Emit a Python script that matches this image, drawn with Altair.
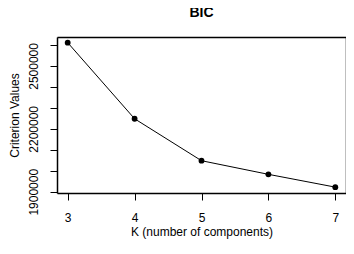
import altair as alt
import pandas as pd

k_values = [3, 4, 5, 6, 7]
bic_values = [2611000, 2248000, 2048000, 1983000, 1922000]
x_ticks = [3, 4, 5, 6, 7]
y_ticks = [1900000, 2000000, 2100000, 2200000, 2300000, 2400000, 2500000, 2600000]
y_labels = [1900000, 2200000, 2500000]
title_text = "BIC"

df = pd.DataFrame({"K": k_values, "BIC": bic_values})

FONT = "Liberation Sans"
label_list = "[" + ",".join(str(v) for v in y_labels) + "]"
W, H = 289, 156
LW = 1.5
xs = alt.Scale(domain=[2.84, 7.16], nice=False, zero=False)
ys = alt.Scale(domain=[1894000, 2638000], nice=False, zero=False)

x_axis = alt.Axis(
    values=x_ticks, title="K (number of components)", grid=False,
    domain=True, domainColor="#000000", domainWidth=LW, labelOverlap=False,
    tickSize=7, tickColor="black", tickWidth=1, labelPadding=17, labelBaseline="middle",
    labelFont=FONT, labelFontSize=12, labelColor="black", format="d",
    titleFont=FONT, titleFontSize=12, titleFontWeight="normal", titleColor="black",
    titleX=W / 2, titleY=38, titleBaseline="middle", titleAlign="center",
)
y_axis = alt.Axis(
    values=y_ticks, title="Criterion Values", grid=False,
    domain=True, domainColor="#000000", domainWidth=LW, labelOverlap=False,
    tickSize=7, tickColor="black", tickWidth=1, labelPadding=17, labelAngle=-90,
    labelAlign="center", labelBaseline="middle",
    labelExpr=f"indexof({label_list}, datum.value) >= 0 ? format(datum.value, 'd') : ''",
    labelFont=FONT, labelFontSize=12, labelColor="black",
    titleFont=FONT, titleFontSize=12, titleFontWeight="normal", titleColor="black",
    titleX=-43, titleY=H / 2, titleBaseline="middle", titleAlign="center", titleAngle=-90,
)
x_top = alt.Axis(orient="top", title=None, labels=False, ticks=False, grid=False,
                 domain=True, domainColor="#000000", domainWidth=LW)
y_right = alt.Axis(orient="right", title=None, labels=False, ticks=False, grid=False,
                   domain=True, domainColor="#000000", domainWidth=LW)

line = alt.Chart(df).mark_line(color="black", strokeWidth=1).encode(
    x=alt.X("K:Q", scale=xs, axis=x_axis),
    y=alt.Y("BIC:Q", scale=ys, axis=y_axis),
)
pts = alt.Chart(df).mark_circle(color="black", opacity=1, size=34).encode(
    x=alt.X("K:Q", scale=xs, axis=x_top),
    y=alt.Y("BIC:Q", scale=ys, axis=y_right),
)
title_mark = alt.Chart(pd.DataFrame({"t": [title_text]})).mark_text(
    font=FONT, fontSize=14, fontWeight="bold", color="black",
    align="center", baseline="middle",
).encode(text="t:N", x=alt.value(W / 2), y=alt.value(-24))

chart = (
    alt.layer(line, pts, title_mark)
    .resolve_axis(x="independent", y="independent")
    .properties(
        width=W,
        height=H,
        autosize=alt.AutoSizeParams(type="none"),
        padding={"left": 49, "top": 29, "right": 0, "bottom": 46},
    )
    .configure_view(stroke="#000000", strokeWidth=LW)
    .configure(background="white")
)

chart.save("out.html", embed_options={"renderer": "svg", "actions": False})
